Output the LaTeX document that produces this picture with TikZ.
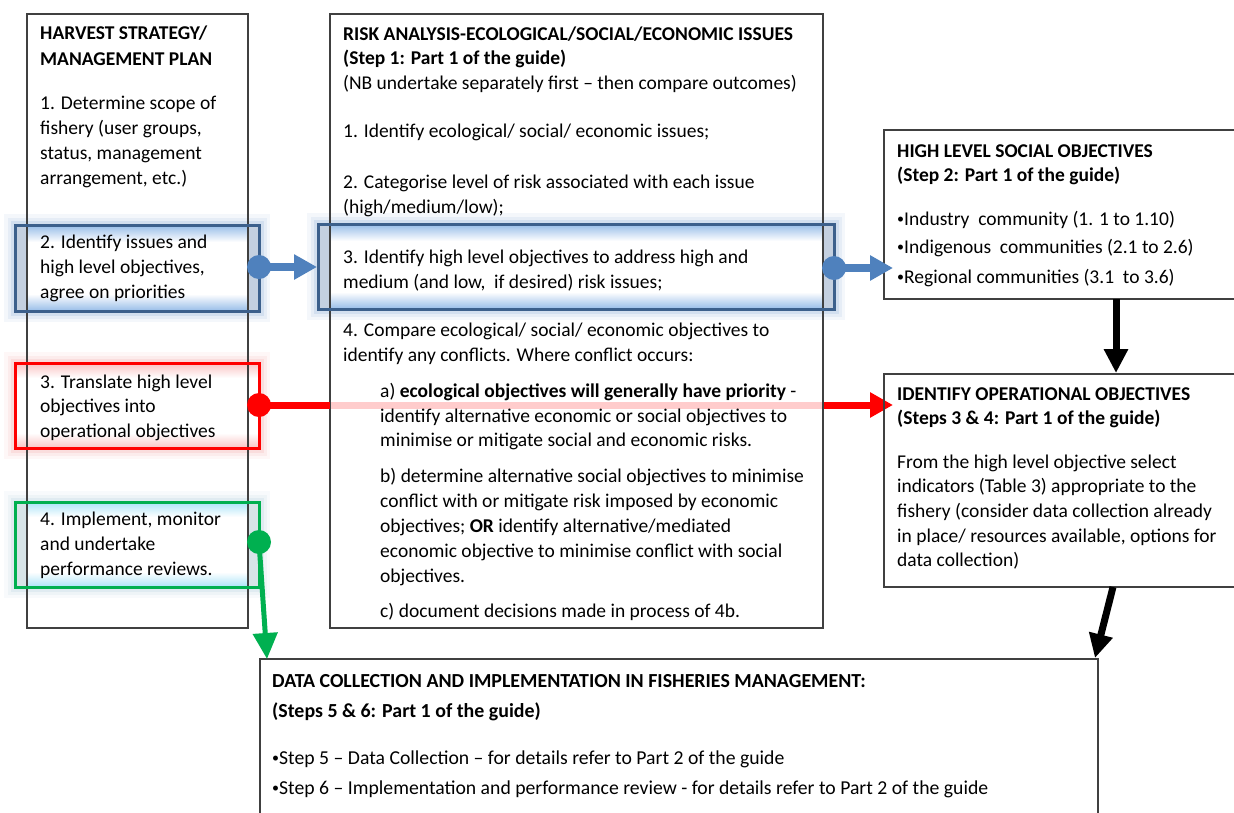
\documentclass[tikz,border=0pt]{standalone}
\usepackage{fontspec}
\setmainfont{Carlito}
\usetikzlibrary{arrows.meta}
\definecolor{boxline}{RGB}{64,64,64}
\definecolor{hlblue}{RGB}{60,96,140}
\definecolor{arrblue}{RGB}{79,129,189}
\definecolor{glowblue}{RGB}{110,150,205}
\definecolor{fillblue}{RGB}{196,208,224}
\definecolor{innerblue}{RGB}{150,188,232}
\definecolor{hlred}{RGB}{255,0,0}
\definecolor{glowred}{RGB}{240,130,130}
\definecolor{innerred}{RGB}{250,195,195}
\definecolor{hlgreen}{RGB}{0,176,80}
\definecolor{glowgreen}{RGB}{140,185,205}
\definecolor{fillgreen}{RGB}{215,228,232}
\definecolor{innergreen}{RGB}{170,228,248}
\newcommand\smbul{{\fontsize{14}{14}\selectfont\raisebox{1.2pt}{•}}}
\begin{document}
\begin{tikzpicture}[x=1pt,y=-1pt,
  txt/.style={anchor=base west, inner sep=0pt, font=\fontsize{19.5}{23}\selectfont},
  btxt/.style={anchor=base west, inner sep=0pt, font=\fontsize{19.5}{23}\selectfont\bfseries},
  dtxt/.style={anchor=base west, inner sep=0pt, font=\fontsize{19.7}{23}\selectfont},
  dbtxt/.style={anchor=base west, inner sep=0pt, font=\fontsize{19.9}{23}\selectfont\bfseries},
  colbox/.style={draw=boxline, line width=1.2pt, anchor=north west, inner sep=0pt, outer sep=0pt},
  hlframe/.style={line width=3pt},
  dot/.style={circle, inner sep=0pt, minimum size=24pt},
  bluearr/.style={arrblue, line width=8pt, -{Triangle[length=23pt,width=24pt]}},
  redarr/.style={hlred, line width=7pt, -{Triangle[length=23pt,width=24pt]}},
  greenarr/.style={hlgreen, line width=5pt, -{Triangle[length=26pt,width=24pt]}},
  blackarr/.style={black, line width=7pt, -{Triangle[length=24pt,width=23pt]}}
]
\path[use as bounding box, fill=white] (0,0) rectangle (1234,812);

% red connector (under the middle box)
\coordinate (rdotc) at (259,405);
\coordinate (rtip) at (893,405);
\draw[redarr] (rdotc) -- (rtip);

% boxes
\node[colbox, fill=white, minimum width=221pt, minimum height=614pt] (left) at (27,14) {};
\node[colbox, fill=white, fill opacity=0.8, minimum width=493pt, minimum height=614pt] (mid) at (330,14) {};
\node[colbox, minimum width=370pt, minimum height=169pt] (hso) at (884,130) {};
\node[colbox, minimum width=370pt, minimum height=213pt] (ioo) at (884,374) {};
\node[colbox, fill=white, minimum width=838pt, minimum height=180pt] (dci) at (260,659) {};

% blue highlight left
\foreach \w/\o in {22/0.07,15/0.10,9/0.16} \draw[glowblue, line width=\w pt, opacity=\o] (15,225) rectangle (259,311);
\fill[fillblue] (15,225) rectangle (259,311);
\fill[white] (27,225) rectangle (248,311);
\shade[top color=innerblue, bottom color=white] (27,225) rectangle (248,242);
\shade[top color=white, bottom color=innerblue] (27,294) rectangle (248,311);
% blue highlight middle
\foreach \w/\o in {22/0.07,15/0.10,9/0.16} \draw[glowblue, line width=\w pt, opacity=\o] (318,224) rectangle (834,309);
\fill[fillblue] (318,224) rectangle (834,309);
\fill[white] (330,224) rectangle (823,309);
\shade[top color=innerblue, bottom color=white] (330,224) rectangle (823,241);
\shade[top color=white, bottom color=innerblue] (330,292) rectangle (823,309);
% red highlight
\foreach \w/\o in {22/0.06,15/0.09,9/0.14} \draw[glowred, line width=\w pt, opacity=\o] (15,363) rectangle (259,448);
\fill[white] (15,363) rectangle (259,448);
\shade[top color=innerred, bottom color=white] (15,363) rectangle (259,378);
\shade[top color=white, bottom color=innerred] (15,433) rectangle (259,448);
% green highlight
\foreach \w/\o in {22/0.06,15/0.09,9/0.14} \draw[glowgreen, line width=\w pt, opacity=\o] (15,502) rectangle (259,587);
\fill[fillgreen] (15,502) rectangle (259,587);
\fill[white] (27,502) rectangle (248,587);
\shade[top color=innergreen, bottom color=white] (27,502) rectangle (248,517);
\shade[top color=white, bottom color=innergreen] (27,572) rectangle (248,587);

% redraw column borders over highlights
\draw[boxline, line width=1.2pt] (left.north west) rectangle (left.south east);
\draw[boxline, line width=1.2pt] (mid.north west) rectangle (mid.south east);

% highlight frames
\draw[hlblue, hlframe] (15,225) rectangle (259,311);
\draw[hlblue, hlframe] (318,224) rectangle (834,309);
\draw[hlred, hlframe] (15,363) rectangle (259,448);
\draw[hlgreen, hlframe] (15,502) rectangle (259,587);

% connectors
\coordinate (b1dc) at (259,267);
\coordinate (b1tip) at (317,267);
\coordinate (b2dc) at (834,268);
\coordinate (b2tip) at (893,268);
\draw[bluearr] (b1dc) -- (b1tip);
\draw[bluearr] (b2dc) -- (b2tip);
\node[dot, fill=arrblue] (b1dot) at (b1dc) {};
\node[dot, fill=arrblue] (b2dot) at (b2dc) {};
\draw[hlred, line width=7pt] (rdotc) -- (330,405);
\node[dot, fill=hlred] (rdot) at (rdotc) {};
\coordinate (gdc) at (259,542);
\coordinate (gtip) at (267,659);
\draw[greenarr] (gdc) -- (gtip);
\node[dot, fill=hlgreen] (gdot) at (gdc) {};
\coordinate (k1s) at (1116,299);
\coordinate (k1t) at (1116,373);
\draw[blackarr] (k1s) -- (k1t);
\coordinate (k2s) at (1113,587);
\coordinate (k2t) at (1095,658);
\draw[blackarr] (k2s) -- (k2t);

% left column text
\node[btxt] (l1) at (40,39) {HARVEST STRATEGY/};
\node[btxt] (l2) at (40,65) {MANAGEMENT PLAN};
\node[txt] (l3) at (40,109) {1. Determine scope of};
\node[txt] (l4) at (40,134) {fishery (user groups,};
\node[txt] (l5) at (40,159) {status, management};
\node[txt] (l6) at (40,184) {arrangement, etc.)};
\node[txt] (l7) at (40,248) {2. Identify issues and};
\node[txt] (l8) at (40,273) {high level objectives,};
\node[txt] (l9) at (40,298) {agree on priorities};
\node[txt] (l10) at (40,388) {3. Translate high level};
\node[txt] (l11) at (40,412) {objectives into};
\node[txt] (l12) at (40,437) {operational objectives};
\node[txt] (l13) at (40,525) {4. Implement, monitor};
\node[txt] (l14) at (40,550) {and undertake};
\node[txt] (l15) at (40,575) {performance reviews.};

% middle column text
\node[btxt] (m1) at (343,40) {RISK ANALYSIS-ECOLOGICAL/SOCIAL/ECONOMIC ISSUES};
\node[btxt] (m2) at (343,64) {(Step 1: Part 1 of the guide)};
\node[txt] (m3) at (343,89) {(NB undertake separately first -- then compare outcomes)};
\node[txt] (m4) at (343,137) {1. Identify ecological/ social/ economic issues;};
\node[txt] (m5) at (343,188) {2. Categorise level of risk associated with each issue};
\node[txt] (m6) at (343,213) {(high/medium/low);};
\node[txt] (m7) at (343,263) {3. Identify high level objectives to address high and};
\node[txt] (m8) at (343,288) {medium (and low,\ \ if desired) risk issues;};
\node[txt] (m9) at (343,336) {4. Compare ecological/ social/ economic objectives to};
\node[txt] (m10) at (343,361) {identify any conflicts. Where conflict occurs:};
\node[txt] (m11) at (380,397) {a) \textbf{ecological objectives will generally have priority} -};
\node[txt] (m12) at (380,422) {identify alternative economic or social objectives to};
\node[txt] (m13) at (380,446) {minimise or mitigate social and economic risks.};
\node[txt] (m14) at (380,482) {b) determine alternative social objectives to minimise};
\node[txt] (m15) at (380,507) {conflict with or mitigate risk imposed by economic};
\node[txt] (m16) at (380,532) {objectives; \textbf{OR} identify alternative/mediated};
\node[txt] (m17) at (380,557) {economic objective to minimise conflict with social};
\node[txt] (m18) at (380,582) {objectives.};
\node[txt] (m19) at (380,617) {c) document decisions made in process of 4b.};

% right top text
\node[btxt] (h1) at (897,157) {HIGH LEVEL SOCIAL OBJECTIVES};
\node[btxt] (h2) at (897,181) {(Step 2: Part 1 of the guide)};
\node[txt] (h3) at (897,225) {\smbul Industry\ \ community (1. 1 to 1.10)};
\node[txt] (h4) at (897,253) {\smbul Indigenous\ \ communities (2.1 to 2.6)};
\node[txt] (h5) at (897,283) {\smbul Regional communities (3.1\ \ to 3.6)};

% right middle text
\node[btxt] (o1) at (897,400) {IDENTIFY OPERATIONAL OBJECTIVES};
\node[btxt] (o2) at (897,424) {(Steps 3 \& 4: Part 1 of the guide)};
\node[txt] (o3) at (897,468) {From the high level objective select};
\node[txt] (o4) at (897,492) {indicators (Table 3) appropriate to the};
\node[txt] (o5) at (897,517) {fishery (consider data collection already};
\node[txt] (o6) at (897,542) {in place/ resources available, options for};
\node[txt] (o7) at (897,566) {data collection)};

% bottom text
\node[dbtxt] (d1) at (272,687) {DATA COLLECTION AND IMPLEMENTATION IN FISHERIES MANAGEMENT:};
\node[dbtxt] (d2) at (272,717) {(Steps 5 \& 6: Part 1 of the guide)};
\node[dtxt] (d3) at (272,764) {\smbul Step 5 -- Data Collection -- for details refer to Part 2 of the guide};
\node[dtxt] (d4) at (272,794) {\smbul Step 6 -- Implementation and performance review - for details refer to Part 2 of the guide};
\end{tikzpicture}
\end{document}
